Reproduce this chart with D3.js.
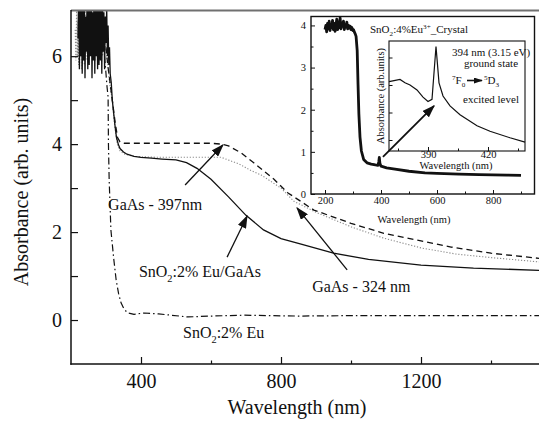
<!DOCTYPE html>
<html>
<head>
<meta charset="utf-8">
<script src="https://cdn.jsdelivr.net/npm/d3@7"></script>
<style>
  body { margin: 0; background: #fff; }
  svg { display: block; }
  svg text { font-family: 'Liberation Serif', 'DejaVu Serif', serif; fill: #111; }
</style>
</head>
<body>
<svg id="chart" width="539" height="422" font-family="Liberation Serif, DejaVu Serif, serif"></svg>
<script>
const SERIF = "'Liberation Serif', 'DejaVu Serif', serif";

// main panel: SnO2:2% Eu/GaAs (solid)
const solidNm = [220,222,224,226,228,230,232,234,236,238,240,242,244,246,248,250,252,254,256,258,260,262,264,266,268,270,272,274,276,278,280,282,284,286,288,290,292,294,296,298,300,302,304,306,308,310,312,
  315,318,322,326,330,335,340,350,360,380,400,430,460,500,530,560,600,650,700,750,800,860,950,1050,1200,1350,1540];
const solidAbs = [6.4,7.5,5.7,7.3,6.0,7.5,5.6,7.1,5.9,7.5,5.5,6.9,6.1,7.4,5.7,7.2,5.8,7.5,6.0,7.3,5.5,7.0,5.9,7.5,5.6,7.2,6.0,7.4,5.7,7.1,5.8,7.5,5.9,7.3,5.6,7.2,6.1,7.0,5.7,6.9,6.3,7.1,6.0,6.7,5.8,6.2,5.6,
  5.4,5.0,4.7,4.4,4.15,4.0,3.9,3.82,3.77,3.72,3.7,3.68,3.66,3.64,3.58,3.45,3.2,2.8,2.38,2.05,1.85,1.72,1.52,1.38,1.25,1.18,1.13];

// GaAs - 397nm (dotted grey)
const dottedNm = [212,214,216,218,220,222,224,226,228,230,232,234,236,238,240,242,244,246,248,250,
  255,260,265,270,275,280,285,290,295,300,305,310,
  318,325,332,340,351,380,450,550,629,680,714,743,800,837,900,1000,1094,1200,1300,1400,1540];
const dottedAbs = [6.6,5.9,7.2,6.0,6.8,5.8,7.0,6.2,6.9,5.7,7.1,6.0,6.6,5.8,7.2,6.1,6.7,5.9,7.0,6.2,
  6.8,6.0,7.1,5.9,6.6,6.2,6.9,6.0,6.5,6.1,5.8,5.4,
  5.0,4.4,4.0,3.85,3.78,3.72,3.7,3.7,3.7,3.55,3.4,3.3,3.0,2.7,2.45,2.12,1.86,1.64,1.5,1.42,1.32];

// GaAs - 324 nm (dashed)
const dashedNm = [300,305,310,318,326,333,340,351,400,500,600,630,650,686,723,780,820,860,894,1000,1094,1200,1286,1400,1540];
const dashedAbs = [6.2,5.8,5.5,5.0,4.5,4.15,4.05,4.02,4.02,4.02,4.02,4.0,3.96,3.8,3.57,3.2,2.89,2.68,2.5,2.2,1.97,1.8,1.66,1.52,1.4];

// SnO2:2% Eu (dash-dot)
const dashDotNm = [296,300,303,306,307,309,314,322,329,336,343,352,363,380,409,450,534,600,694,849,1000,1200,1400,1540];
const dashDotAbs = [6.0,5.6,5.3,5.07,4.0,3.2,2.05,1.4,0.91,0.6,0.39,0.24,0.16,0.13,0.16,0.14,0.07,0.09,0.11,0.09,0.1,0.1,0.1,0.1];

// inset: SnO2:4%Eu3+ crystal
const insetNm = [200,203,206,209,212,215,218,221,224,227,230,233,236,239,242,245,248,251,254,257,260,263,266,269,272,275,278,281,284,287,290,293,296,299,302,305,308,311,
  315,318,321,325,330,338,350,365,380,389,392,394,396,400,420,450,500,557,600,679,750,850,900];
const insetAbs = [3.9,4.0,3.85,4.05,3.92,4.1,3.88,4.02,3.95,4.12,3.9,4.05,3.86,4.0,4.15,3.9,4.08,3.95,4.18,3.92,4.06,3.98,4.1,3.9,4.02,3.96,4.08,3.92,4.0,3.94,3.98,3.9,3.95,3.88,3.9,3.84,3.8,3.74,
  3.4,2.6,1.9,1.35,1.02,0.82,0.74,0.71,0.69,0.68,0.76,0.87,0.73,0.66,0.62,0.59,0.54,0.5,0.49,0.47,0.46,0.45,0.44];

// inner zoom of the inset (arb. units)
const innerNm = [370.5,373,376,378.5,381,384.5,387.5,390,392,394,395.5,397.5,401,406,414.5,421,431,438.5];
const innerAbs = [0.63,0.64,0.65,0.62,0.60,0.555,0.49,0.45,0.47,0.95,0.62,0.50,0.41,0.33,0.23,0.18,0.12,0.08];

const mainXTicks = [400, 800, 1200];
const mainXMinor = [600, 1000, 1400];
const mainYTicks = [0, 1, 2, 3, 4, 5, 6];
const insetXTicks = [200, 400, 600, 800];
const insetXMinor = [300, 500, 700, 900];
const insetYTicks = [0, 1, 2, 3, 4];
const insetYMinor = [0.5, 1.5, 2.5, 3.5];
const innerXTicks = [390, 420];
const innerXMinor = [375, 405, 435];
const innerYTicks = [0.1, 0.35, 0.6, 0.85];

const svg = d3.select('#chart');
const defs = svg.append('defs');

defs.append('clipPath').attr('id', 'mainClip')
  .append('rect').attr('x', 71).attr('y', 10).attr('width', 469).attr('height', 354);

function addHead(id, w, h) {
  defs.append('marker')
    .attr('id', id)
    .attr('viewBox', '0 0 10 10')
    .attr('refX', 9).attr('refY', 5)
    .attr('markerUnits', 'userSpaceOnUse')
    .attr('markerWidth', w).attr('markerHeight', h)
    .attr('preserveAspectRatio', 'none')
    .attr('orient', 'auto')
    .append('path').attr('d', 'M0,0 L10,5 L0,10 z').attr('fill', '#111');
}
addHead('head', 13, 9);
addHead('headSmall', 9, 6);

// text with sub/superscripts
function rich(g, x, y, size, parts, anchor) {
  const t = g.append('text').attr('x', x).attr('y', y)
    .attr('font-family', SERIF)
    .attr('font-size', size).attr('text-anchor', anchor || 'start');
  let cur = 0;
  parts.forEach(p => {
    const target = p[1] === 'sub' ? 0.3 * size : p[1] === 'sup' ? -0.4 * size : 0;
    const s = t.append('tspan').text(p[0]).attr('dy', target - cur);
    if (p[1]) s.attr('font-size', size * 0.65);
    cur = target;
  });
  return t;
}

function styleAxis(a, size) {
  a.attr('font-family', SERIF);
  a.selectAll('text').attr('font-size', size).attr('font-family', SERIF);
  a.selectAll('.tick line').attr('stroke', '#111');
  a.select('.domain').remove();
}

// ---------- main panel ----------
const x = d3.scaleLinear().domain([200, 1540]).range([71, 540]);
const y = d3.scaleLinear().domain([-1, 7.05]).range([364, 10]);

const line = d3.line().x(d => x(d[0])).y(d => y(d[1]));
const curves = svg.append('g').attr('clip-path', 'url(#mainClip)');

curves.append('path').datum(d3.zip(dottedNm, dottedAbs))
  .attr('d', line).attr('fill', 'none').attr('stroke', '#8a8a8a')
  .attr('stroke-width', 1.1).attr('stroke-dasharray', '1.2,1.8');
curves.append('path').datum(d3.zip(dashDotNm, dashDotAbs))
  .attr('d', line).attr('fill', 'none').attr('stroke', '#111')
  .attr('stroke-width', 1.2).attr('stroke-dasharray', '7,3,1.5,3');
curves.append('path').datum(d3.zip(dashedNm, dashedAbs))
  .attr('d', line).attr('fill', 'none').attr('stroke', '#111')
  .attr('stroke-width', 1.3).attr('stroke-dasharray', '6,4');
curves.append('path').datum(d3.zip(solidNm, solidAbs))
  .attr('d', line).attr('fill', 'none').attr('stroke', '#111')
  .attr('stroke-width', 1.3);

const xAxis = svg.append('g').attr('transform', 'translate(0,364)')
  .call(d3.axisBottom(x).tickValues(mainXTicks).tickSize(-7).tickPadding(10).tickFormat(d3.format('d')));
const xMinor = svg.append('g').attr('transform', 'translate(0,364)')
  .call(d3.axisBottom(x).tickValues(mainXMinor).tickSize(-3.5).tickFormat(''));
const yAxis = svg.append('g').attr('transform', 'translate(71,0)')
  .call(d3.axisLeft(y).tickValues(mainYTicks).tickSize(-7).tickPadding(9)
    .tickFormat(d => d % 2 === 0 ? d : ''));
[xAxis, xMinor, yAxis].forEach(a => styleAxis(a, 20));
svg.selectAll('.tick line').attr('stroke-width', 1.2);

// frame: grey top line, black left and bottom axis lines
svg.append('line').attr('x1', 71).attr('x2', 539).attr('y1', 10.5).attr('y2', 10.5)
  .attr('stroke', '#707070').attr('stroke-width', 2.2);
svg.append('line').attr('x1', 71).attr('x2', 71).attr('y1', 10).attr('y2', 364.7)
  .attr('stroke', '#111').attr('stroke-width', 1.5);
svg.append('line').attr('x1', 70.3).attr('x2', 539).attr('y1', 364).attr('y2', 364)
  .attr('stroke', '#111').attr('stroke-width', 1.5);

svg.append('text').attr('x', 297).attr('y', 414).attr('text-anchor', 'middle')
  .attr('font-family', SERIF).attr('font-size', 20).text('Wavelength (nm)');
svg.append('text').attr('transform', 'translate(28,192) rotate(-90)').attr('text-anchor', 'middle')
  .attr('font-family', SERIF).attr('font-size', 20).text('Absorbance (arb. units)');

// annotations
const notes = svg.append('g');
function arrow(from, to) {
  notes.append('line')
    .attr('x1', x(from[0])).attr('y1', y(from[1]))
    .attr('x2', x(to[0])).attr('y2', y(to[1]))
    .attr('stroke', '#111').attr('stroke-width', 1.3).attr('marker-end', 'url(#head)');
}
arrow([526, 3.07], [634, 3.98]);
arrow([646, 1.43], [703, 2.36]);
arrow([989, 1.14], [846, 2.55]);

rich(notes, x(306), y(2.5), 16, [['GaAs - 397nm']]);
rich(notes, x(394), y(0.98), 16, [['SnO'], ['2', 'sub'], [':2% Eu/GaAs']]);
rich(notes, x(889), y(0.64), 16, [['GaAs - 324 nm']]);
rich(notes, x(520), y(-0.41), 16, [['SnO'], ['2', 'sub'], [':2% Eu']]);

// ---------- inset ----------
const ix = d3.scaleLinear().domain([150, 950]).range([311, 535]);
const iy = d3.scaleLinear().domain([0, 4.2]).range([194, 17]);
const inset = svg.append('g');

inset.append('rect').attr('x', 311).attr('y', 16.5).attr('width', 223.5).attr('height', 177.5)
  .attr('fill', '#fff').attr('stroke', '#111').attr('stroke-width', 1.4);

inset.append('path').datum(d3.zip(insetNm, insetAbs))
  .attr('d', d3.line().x(d => ix(d[0])).y(d => iy(d[1])))
  .attr('fill', 'none').attr('stroke', '#111').attr('stroke-width', 2.8).attr('stroke-linejoin', 'round');

const ixAxis = inset.append('g').attr('transform', 'translate(0,194)')
  .call(d3.axisBottom(ix).tickValues(insetXTicks).tickSize(-4).tickPadding(3).tickFormat(d3.format('d')));
const ixMinor = inset.append('g').attr('transform', 'translate(0,194)')
  .call(d3.axisBottom(ix).tickValues(insetXMinor).tickSize(-2.5).tickFormat(''));
const iyAxis = inset.append('g').attr('transform', 'translate(311,0)')
  .call(d3.axisLeft(iy).tickValues(insetYTicks).tickSize(-4).tickPadding(5).tickFormat(d3.format('d')));
const iyMinor = inset.append('g').attr('transform', 'translate(311,0)')
  .call(d3.axisLeft(iy).tickValues(insetYMinor).tickSize(-2.5).tickFormat(''));
[ixAxis, ixMinor, iyAxis, iyMinor].forEach(a => styleAxis(a, 10.5));

inset.append('text').attr('x', 414).attr('y', 223).attr('text-anchor', 'middle')
  .attr('font-family', SERIF).attr('font-size', 10.5).text('Wavelength (nm)');
rich(inset, 370, 33, 11, [['SnO'], ['2', 'sub'], [':4%Eu'], ['3+', 'sup'], ['_Crystal']]);

// inner zoom
const jx = d3.scaleLinear().domain([370.5, 438.5]).range([389, 525]);
const jy = d3.scaleLinear().domain([0, 1]).range([151, 41]);

inset.append('rect').attr('x', 389).attr('y', 41).attr('width', 136).attr('height', 110)
  .attr('fill', '#fff').attr('stroke', '#111').attr('stroke-width', 1.1);
inset.append('path').datum(d3.zip(innerNm, innerAbs))
  .attr('d', d3.line().x(d => jx(d[0])).y(d => jy(d[1])))
  .attr('fill', 'none').attr('stroke', '#111').attr('stroke-width', 1.2);

const jxAxis = inset.append('g').attr('transform', 'translate(0,151)')
  .call(d3.axisBottom(jx).tickValues(innerXTicks).tickSize(-4).tickPadding(0).tickFormat(d3.format('d')));
const jxMinor = inset.append('g').attr('transform', 'translate(0,151)')
  .call(d3.axisBottom(jx).tickValues(innerXMinor).tickSize(-2.5).tickFormat(''));
const jyAxis = inset.append('g').attr('transform', 'translate(389,0)')
  .call(d3.axisLeft(jy).tickValues(innerYTicks).tickSize(-3.5).tickFormat(''));
[jxAxis, jxMinor, jyAxis].forEach(a => styleAxis(a, 10.5));

inset.append('text').attr('x', 456).attr('y', 169).attr('text-anchor', 'middle')
  .attr('font-family', SERIF).attr('font-size', 10.5).text('Wavelength (nm)');
inset.append('text').attr('transform', 'translate(384,96) rotate(-90)').attr('text-anchor', 'middle')
  .attr('font-family', SERIF).attr('font-size', 10.5).text('Absorbance (arb.units)');

inset.append('text').attr('x', 452).attr('y', 56).attr('font-family', SERIF).attr('font-size', 11).text('394 nm (3.15 eV)');
inset.append('text').attr('x', 491).attr('y', 67).attr('text-anchor', 'middle')
  .attr('font-family', SERIF).attr('font-size', 11).text('ground state');
rich(inset, 452, 84, 11, [['7', 'sup'], ['F'], ['0', 'sub']]);
inset.append('line').attr('x1', 467).attr('x2', 482).attr('y1', 80.5).attr('y2', 80.5)
  .attr('stroke', '#111').attr('stroke-width', 1.6).attr('marker-end', 'url(#headSmall)');
rich(inset, 484, 84, 11, [['5', 'sup'], ['D'], ['3', 'sub']]);
inset.append('text').attr('x', 491).attr('y', 103).attr('text-anchor', 'middle')
  .attr('font-family', SERIF).attr('font-size', 11).text('excited level');

// arrow from the 394 nm spike to the inner zoom
inset.append('line')
  .attr('x1', ix(407)).attr('y1', iy(0.88))
  .attr('x2', jx(393)).attr('y2', jy(0.41))
  .attr('stroke', '#111').attr('stroke-width', 1.8).attr('marker-end', 'url(#head)');
</script>
</body>
</html>
